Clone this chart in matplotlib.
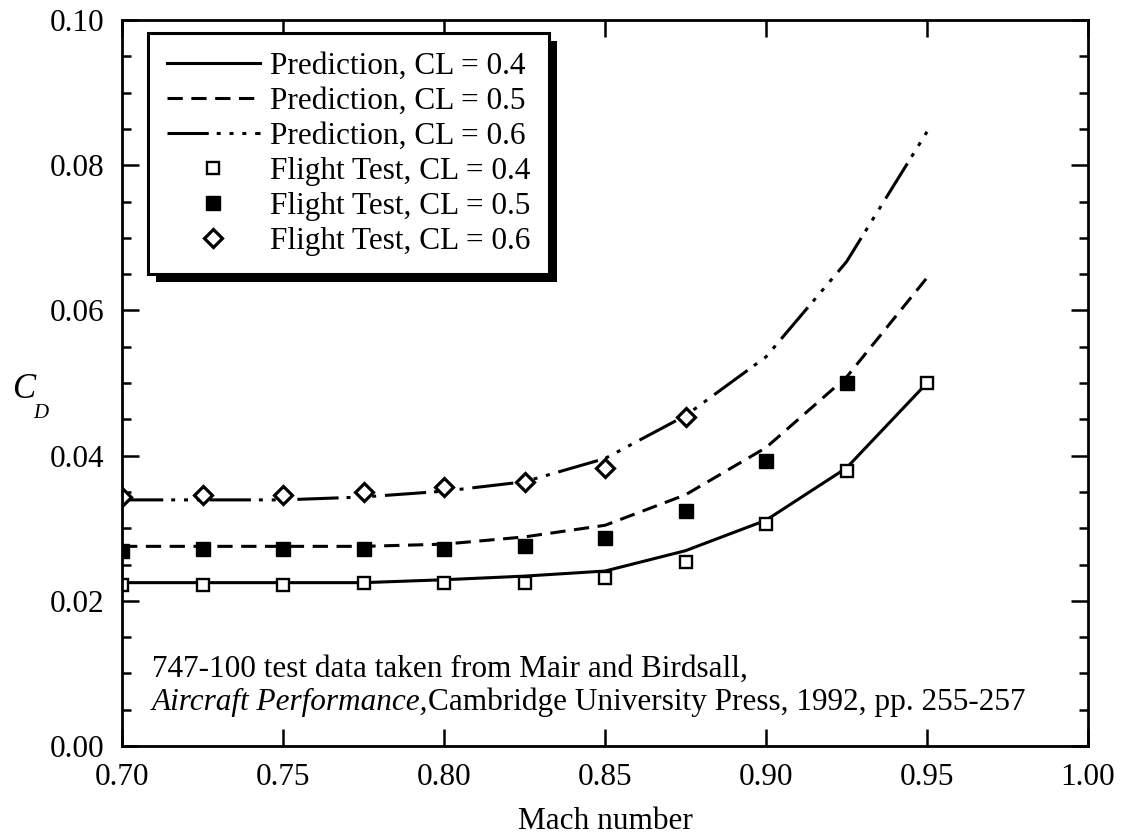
import matplotlib
matplotlib.use('Agg')
import matplotlib.pyplot as plt
from matplotlib.patches import Rectangle
from matplotlib.ticker import MultipleLocator

# drag coefficient vs Mach number, 747-100
mach = [0.700, 0.725, 0.750, 0.775, 0.800, 0.825, 0.850, 0.875, 0.900, 0.925, 0.950]

pred_04 = [0.0225, 0.0225, 0.0225, 0.0225, 0.0229, 0.0234, 0.0241, 0.0269, 0.0311, 0.0383, 0.0500]
pred_05 = [0.0275, 0.0275, 0.0275, 0.0275, 0.0278, 0.0288, 0.0304, 0.0346, 0.0411, 0.0508, 0.0645]
pred_06 = [0.0339, 0.0339, 0.0339, 0.0343, 0.0351, 0.0364, 0.0396, 0.0455, 0.0536, 0.0667, 0.0846]

ft_04 = [0.0222, 0.0222, 0.0222, 0.0225, 0.0225, 0.0225, 0.0231, 0.0253, 0.0306, 0.0379, 0.0500]
ft_05 = [0.0269, 0.0271, 0.0271, 0.0271, 0.0271, 0.0275, 0.0287, 0.0324, 0.0393, 0.0500]
ft_06 = [0.0343, 0.0346, 0.0346, 0.0350, 0.0357, 0.0364, 0.0383, 0.0453]

labels = ['Prediction, CL = 0.4', 'Prediction, CL = 0.5', 'Prediction, CL = 0.6',
          'Flight Test, CL = 0.4', 'Flight Test, CL = 0.5', 'Flight Test, CL = 0.6']

plt.rcParams['font.family'] = ['Liberation Serif', 'DejaVu Serif']
plt.rcParams['font.size'] = 22.5

fig = plt.figure(figsize=(11.22, 8.36), dpi=100)
ax = fig.add_axes([122 / 1122, 1 - 746 / 836, 966 / 1122, 726 / 836])

lw = 2.2
ax.plot(mach, pred_04, color='black', lw=lw, label=labels[0])
ax.plot(mach, pred_05, color='black', lw=lw, dashes=(5.0, 2.8), label=labels[1])
ax.plot(mach, pred_06, color='black', lw=lw,
        dashes=(13.5, 2.6, 1.3, 2.9, 1.3, 2.9, 1.3, 2.9), label=labels[2])

ax.plot(mach[:len(ft_04)], ft_04, ls='none', marker='s', ms=9, mfc='white',
        mec='black', mew=1.7, label=labels[3])
ax.plot(mach[:len(ft_05)], ft_05, ls='none', marker='s', ms=9.5, mfc='black',
        mec='black', mew=1.0, label=labels[4])
ax.plot(mach[:len(ft_06)], ft_06, ls='none', marker='D', ms=9, mfc='white',
        mec='black', mew=2.3, label=labels[5])

ax.set_xlim(0.70, 1.00)
ax.set_ylim(0.0, 0.10)
ax.xaxis.set_major_locator(MultipleLocator(0.05))
ax.yaxis.set_major_locator(MultipleLocator(0.02))
ax.yaxis.set_minor_locator(MultipleLocator(0.005))
ax.xaxis.set_major_formatter(plt.FormatStrFormatter('%.2f'))
ax.yaxis.set_major_formatter(plt.FormatStrFormatter('%.2f'))

ax.tick_params(which='both', direction='in', top=True, right=True, width=1.8, color='black')
ax.tick_params(which='major', length=12)
ax.tick_params(which='minor', length=6.5)
ax.tick_params(axis='x', pad=12)
ax.tick_params(axis='y', pad=13)
for s in ax.spines.values():
    s.set_linewidth(2.0)

leg = ax.legend(loc='upper left', bbox_to_anchor=(0.027, 0.982), borderaxespad=0,
                frameon=True, fancybox=False, framealpha=1, edgecolor='black',
                handlelength=2.98, handletextpad=0.33, borderpad=0.6,
                labelspacing=0.19, numpoints=1)
leg.get_frame().set_linewidth(2.2)

# black drop shadow behind the legend box
fig.canvas.draw()
bb = leg.get_window_extent().transformed(ax.transAxes.inverted())
dx = 8 / 966
dy = 8 / 726
ax.add_patch(Rectangle((bb.x0 + dx, bb.y0 - dy), bb.width, bb.height,
                       transform=ax.transAxes, facecolor='black', edgecolor='none',
                       clip_on=False, zorder=4.9))

# source note
t1 = ax.text(0.7093, 0.0095, '747-100 test data taken from Mair and Birdsall,',
             va='baseline', ha='left')
t2 = ax.text(0.7093, 0.0050, 'Aircraft Performance,', style='italic',
             va='baseline', ha='left')
ax.annotate('Cambridge University Press, 1992, pp. 255-257', xy=(1, 0),
            xycoords=t2, va='bottom', ha='left')

fig.text(605 / 1122, 1 - 829 / 836, 'Mach number', ha='center', va='baseline')
fig.text(12 / 1122, 1 - 398 / 836, 'C', style='italic', fontsize=25, va='baseline')
fig.text(33 / 1122, 1 - 418 / 836, 'D', style='italic', fontsize=15, va='baseline')

fig.savefig('out.png', dpi=100)
